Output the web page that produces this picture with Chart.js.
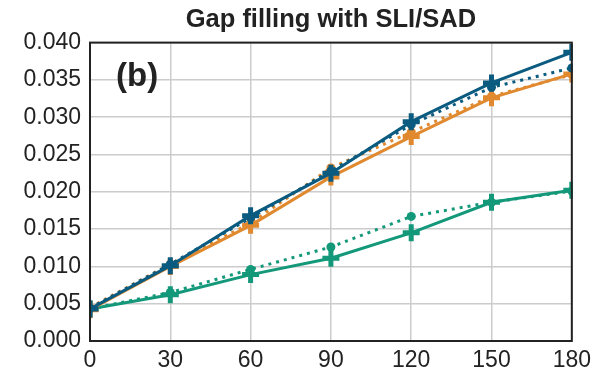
<!DOCTYPE html>
<html>
<head>
<meta charset="utf-8">
<script src="https://cdn.jsdelivr.net/npm/chart.js@4"></script>
<style>
  html, body { margin: 0; padding: 0; background: #fff; }
  #wrap { width: 597px; height: 371px; }
</style>
</head>
<body>
<div id="wrap"><canvas id="myChart"></canvas></div>
<script>
const days = [0, 30, 60, 90, 120, 150, 180];

const blueSolid = [0.0043, 0.0101, 0.0168, 0.0225, 0.0294, 0.0346, 0.0387];
const blueDotted = [0.0044, 0.0103, 0.0165, 0.0228, 0.0290, 0.0340, 0.0366];
const orangeSolid = [0.0042, 0.0100, 0.0155, 0.0220, 0.0274, 0.0326, 0.0358];
const orangeDotted = [0.0045, 0.0103, 0.0158, 0.0232, 0.0280, 0.0328, 0.0357];
const greenSolid = [0.0043, 0.0062, 0.0089, 0.0111, 0.0145, 0.0186, 0.0202];
const greenDotted = [0.0043, 0.0065, 0.0096, 0.0126, 0.0167, 0.0186, 0.0201];

const BLUE = "#0a5b7f";
const ORANGE = "#e0892f";
const GREEN = "#13987a";
const FONT = "'Liberation Sans', Arial, sans-serif";

function pts(vals) {
  return days.map((d, i) => ({ x: d, y: vals[i] }));
}

function solid(vals, color) {
  return {
    data: pts(vals),
    borderColor: color,
    backgroundColor: color,
    borderWidth: 3,
    pointStyle: "cross",
    pointRadius: 8.5,
    pointBorderWidth: 5,
    pointBorderColor: color,
    clip: 1,
  };
}

function dotted(vals, color) {
  return {
    data: pts(vals),
    borderColor: color,
    backgroundColor: color,
    borderWidth: 3,
    borderDash: [3, 5],
    pointStyle: "circle",
    pointRadius: 4.5,
    pointBorderWidth: 0,
    clip: 1,
  };
}

// frame round the plot area and the panel letter
const frameAndLabel = {
  id: "frameAndLabel",
  afterDraw(chart) {
    const { ctx, chartArea: a } = chart;
    ctx.save();
    ctx.strokeStyle = "#222";
    ctx.lineWidth = 2;
    ctx.strokeRect(a.left, a.top, a.right - a.left, a.bottom - a.top);
    ctx.fillStyle = "#222";
    ctx.font = "bold 33px " + FONT;
    ctx.textAlign = "left";
    ctx.textBaseline = "middle";
    ctx.fillText("(b)", a.left + 26, a.top + 34);
    ctx.restore();
  },
};

const config = {
  type: "line",
  data: {
    datasets: [
      dotted(blueDotted, BLUE),
      solid(blueSolid, BLUE),
      dotted(orangeDotted, ORANGE),
      solid(orangeSolid, ORANGE),
      dotted(greenDotted, GREEN),
      solid(greenSolid, GREEN),
    ],
  },
  options: {
    responsive: true,
    maintainAspectRatio: false,
    animation: false,
    layout: { padding: { left: 0, right: 23, top: 0, bottom: 0 } },
    plugins: {
      legend: { display: false },
      tooltip: { enabled: false },
      title: {
        display: true,
        fullSize: false,
        text: "Gap filling with SLI/SAD",
        color: "#222",
        font: { family: FONT, size: 25.5, weight: "bold" },
        padding: { top: 5, bottom: 7 },
      },
    },
    scales: {
      x: {
        type: "linear",
        min: 0,
        max: 180,
        afterFit(scale) { scale.height = 30; },
        ticks: {
          stepSize: 30,
          color: "#222",
          font: { family: FONT, size: 23 },
          padding: 6,
          maxRotation: 0,
        },
        grid: { color: "#cccccc", lineWidth: 1.5, drawTicks: false },
        border: { display: false },
      },
      y: {
        min: 0,
        max: 0.04,
        afterFit(scale) { scale.width = 90; },
        ticks: {
          stepSize: 0.005,
          color: "#222",
          font: { family: FONT, size: 23 },
          padding: 9,
          callback: (v) => v.toFixed(3),
        },
        grid: { color: "#cccccc", lineWidth: 1.5, drawTicks: false },
        border: { display: false },
      },
    },
  },
  plugins: [frameAndLabel],
};

const myChart = new Chart(document.getElementById("myChart"), config);
</script>
</body>
</html>
